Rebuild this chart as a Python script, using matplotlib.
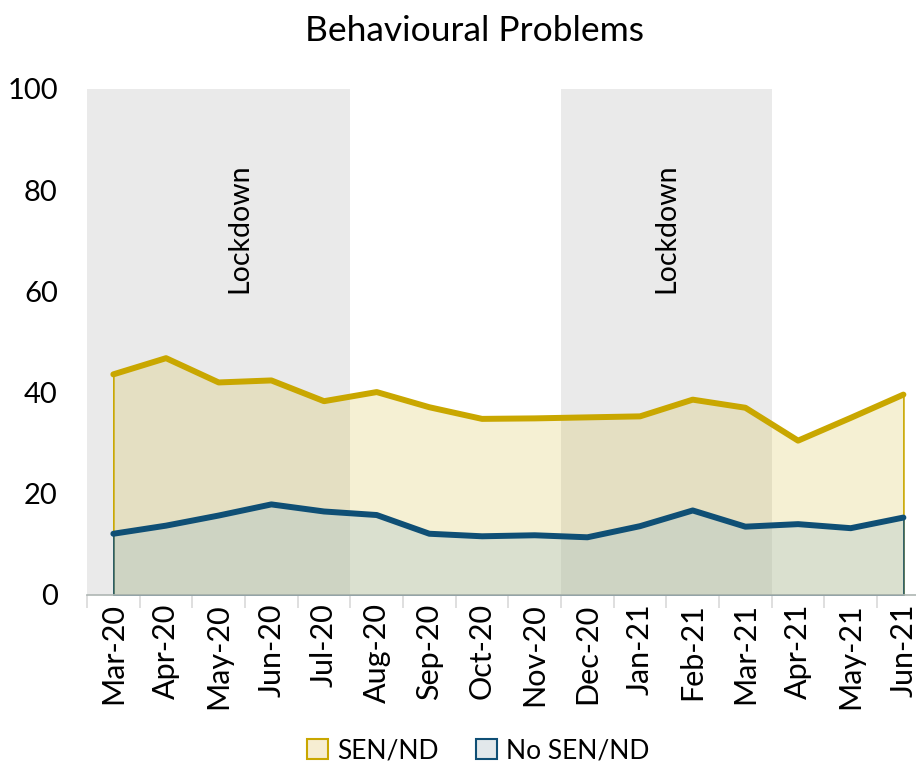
import matplotlib
matplotlib.use("Agg")
import matplotlib.pyplot as plt
import numpy as np
from matplotlib.patches import Patch

plt.rcParams["font.family"] = ["Lato", "DejaVu Sans"]

months = ["Mar-20", "Apr-20", "May-20", "Jun-20", "Jul-20", "Aug-20", "Sep-20",
          "Oct-20", "Nov-20", "Dec-20", "Jan-21", "Feb-21", "Mar-21", "Apr-21",
          "May-21", "Jun-21"]
sen_nd = [43.6, 46.8, 42.0, 42.4, 38.3, 40.1, 37.1, 34.8, 34.9, 35.1, 35.3,
          38.6, 37.0, 30.5, 35.0, 39.6]
no_sen_nd = [12.1, 13.7, 15.7, 17.9, 16.5, 15.8, 12.1, 11.6, 11.8, 11.4, 13.6,
             16.7, 13.5, 14.0, 13.2, 15.3]
lockdowns = [("Mar-20", "Jul-20"), ("Dec-20", "Mar-21")]
lockdown_label_x = [2.4, 10.5]

YELLOW = "#C9A700"
BLUE = "#0F4F75"

x = np.arange(len(months))

fig = plt.figure(figsize=(9.16, 7.69), dpi=100)
ax = fig.add_axes([0.095, 0.2263, 0.92, 0.658])

# lockdown periods as grey bands
for (start, end), lx in zip(lockdowns, lockdown_label_x):
    i0, i1 = months.index(start), months.index(end)
    ax.axvspan(i0 - 0.5, i1 + 0.5, color="#EAEAEA", lw=0, zorder=0)
    ax.text(lx, 72.5, "Lockdown", rotation=90, ha="center", va="center",
            fontsize=20.5, color="black", zorder=5)

ax.fill_between(x, 0, sen_nd, facecolor=(0.80, 0.68, 0.06, 0.18),
                edgecolor=YELLOW, lw=1.2, zorder=1)
ax.fill_between(x, 0, no_sen_nd, facecolor=(0.62, 0.74, 0.78, 0.30),
                edgecolor=BLUE, lw=1.0, zorder=2)
ax.plot(x, sen_nd, color=YELLOW, lw=4.3, solid_capstyle="round",
        solid_joinstyle="round", zorder=3)
ax.plot(x, no_sen_nd, color=BLUE, lw=4.3, solid_capstyle="round",
        solid_joinstyle="round", zorder=4)

ax.set_xlim(-0.5, len(months) - 0.5)
ax.set_ylim(0, 100)
ax.set_yticks(range(0, 101, 20))
ax.tick_params(axis="y", length=0, labelsize=21, pad=21)

ax.set_xticks(x)
ax.set_xticklabels(months, rotation=90, fontsize=22)
ax.set_xticks(np.arange(-0.5, len(months), 1.0), minor=True)
ax.tick_params(axis="x", which="major", length=0, pad=6)
ax.tick_params(axis="x", which="minor", length=9, color="#D9D9D9", width=1.2)

for side in ["top", "right", "left"]:
    ax.spines[side].set_visible(False)
ax.spines["bottom"].set_color("#AEB6B3")
ax.spines["bottom"].set_linewidth(1.2)
ax.spines["bottom"].set_zorder(6)

fig.text(0.518, 0.96, "Behavioural Problems", ha="center", va="center",
         fontsize=25.5)

handles = [
    Patch(facecolor="#F6EDD2", edgecolor=YELLOW, lw=1.5, label="SEN/ND"),
    Patch(facecolor="#E2E8EB", edgecolor=BLUE, lw=1.5, label="No SEN/ND"),
]
fig.legend(handles=handles, loc="center", bbox_to_anchor=(0.522, 0.024),
           ncol=2, frameon=False, fontsize=19, handlelength=0.8,
           handleheight=0.8, handletextpad=0.35, columnspacing=1.4)

fig.savefig("out.png", dpi=100)
